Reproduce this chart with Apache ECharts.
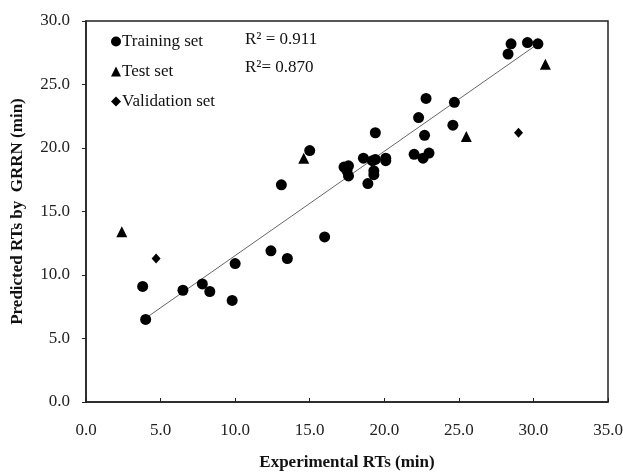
<!DOCTYPE html>
<html>
<head>
<meta charset="utf-8">
<script src="https://cdn.jsdelivr.net/npm/echarts@6/dist/echarts.min.js"></script>
<style>
  html, body { margin: 0; padding: 0; background: #fff; }
  #chart { width: 623px; height: 472px; }
</style>
</head>
<body>
<div id="chart"></div>
<script>
// Experimental vs predicted retention times (min)
const trainingSet = [
  [3.8, 9.1], [4.0, 6.5], [6.5, 8.8], [7.8, 9.3], [8.3, 8.7], [9.8, 8.0],
  [10.0, 10.9], [12.4, 11.9], [13.5, 11.3], [13.1, 17.1], [15.0, 19.8],
  [16.0, 13.0], [17.3, 18.5], [17.6, 18.6], [17.5, 18.2], [17.6, 17.8],
  [18.6, 19.2], [18.9, 17.2], [19.2, 19.0], [19.4, 19.1], [19.3, 18.2],
  [19.3, 17.9], [19.4, 21.2], [20.1, 19.2], [20.1, 19.0], [22.0, 19.5],
  [22.6, 19.2], [23.0, 19.6], [22.7, 21.0], [22.3, 22.4], [22.8, 23.9],
  [24.6, 21.8], [24.7, 23.6], [28.3, 27.4], [28.5, 28.2], [29.6, 28.3],
  [30.3, 28.2]
]
const testSet = [[2.4, 13.4], [14.6, 19.2], [25.5, 20.9], [30.8, 26.6]]
const validationSet = [[4.7, 11.3], [29.0, 21.2]]
const fitLine = [[4.0, 6.6], [30.3, 28.2]]

const r2Labels = ['R\u00b2 = 0.911', 'R\u00b2= 0.870']
const seriesNames = ['Training set', 'Test set', 'Validation set']

const font = '"Liberation Serif", "DejaVu Serif", serif'

const chart = echarts.init(document.getElementById('chart'))

const option = {
  animation: false,
  textStyle: { fontFamily: font },
  grid: {
    left: 86, right: 15, top: 21, bottom: 70,
    outerBoundsMode: 'none',
    show: true,
    borderColor: '#222',
    borderWidth: 1.5
  },
  legend: {
    data: [
      { name: seriesNames[0], icon: 'circle' },
      { name: seriesNames[1], icon: 'triangle' },
      { name: seriesNames[2], icon: 'diamond' }
    ],
    orient: 'vertical',
    left: 106,
    top: 28,
    itemWidth: 10,
    itemHeight: 10,
    itemGap: 13,
    textStyle: { fontFamily: font, fontSize: 17, color: '#111', padding: [0, 0, 0, -4] }
  },
  graphic: [
    {
      type: 'text', left: 245, top: 31,
      style: { text: r2Labels[0], font: '17px ' + font, fill: '#111' }
    },
    {
      type: 'text', left: 245, top: 59,
      style: { text: r2Labels[1], font: '17px ' + font, fill: '#111' }
    }
  ],
  xAxis: {
    type: 'value',
    min: 0, max: 35, interval: 5,
    name: 'Experimental RTs (min)',
    nameLocation: 'middle',
    nameGap: 52,
    nameTextStyle: { fontFamily: font, fontSize: 17, fontWeight: 'bold', color: '#111' },
    axisLine: { show: true, lineStyle: { color: '#222', width: 1.5 } },
    axisTick: { show: true, inside: true, length: 4, lineStyle: { color: '#222' } },
    axisLabel: {
      fontFamily: font, fontSize: 17, color: '#222', margin: 20,
      formatter: v => v.toFixed(1)
    },
    splitLine: { show: false }
  },
  yAxis: {
    type: 'value',
    min: 0, max: 30, interval: 5,
    name: 'Predicted RTs by  GRRN (min)',
    nameLocation: 'middle',
    nameGap: 60,
    nameTextStyle: { fontFamily: font, fontSize: 17, fontWeight: 'bold', color: '#111' },
    axisLine: { show: true, lineStyle: { color: '#222', width: 1.5 } },
    axisTick: { show: true, inside: false, length: 4, lineStyle: { color: '#222' } },
    axisLabel: {
      fontFamily: font, fontSize: 17, color: '#222', margin: 16,
      formatter: v => v.toFixed(1)
    },
    splitLine: { show: false }
  },
  series: [
    {
      name: 'fit',
      type: 'line',
      data: fitLine,
      symbol: 'none',
      lineStyle: { color: '#666', width: 1 },
      silent: true,
      z: 1
    },
    {
      name: seriesNames[0],
      type: 'scatter',
      data: trainingSet,
      symbol: 'circle',
      symbolSize: 11,
      itemStyle: { color: '#000', opacity: 1 },
      z: 3
    },
    {
      name: seriesNames[1],
      type: 'scatter',
      data: testSet,
      symbol: 'triangle',
      symbolSize: 11,
      itemStyle: { color: '#000', opacity: 1 },
      z: 3
    },
    {
      name: seriesNames[2],
      type: 'scatter',
      data: validationSet,
      symbol: 'diamond',
      symbolSize: [9, 10],
      itemStyle: { color: '#000', opacity: 1 },
      z: 3
    }
  ]
}

chart.setOption(option)
</script>
</body>
</html>
